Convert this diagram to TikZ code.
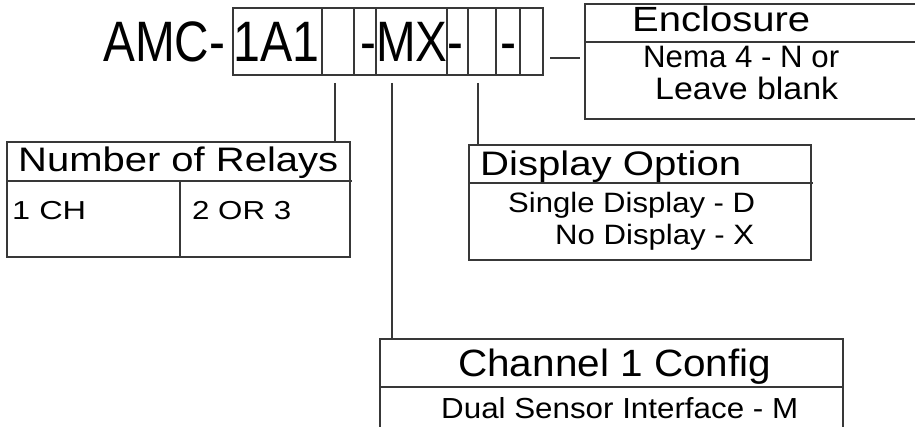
\documentclass[tikz,border=0pt]{standalone}
\usepackage{fontspec}
\setmainfont{Liberation Sans}
\usepackage{graphicx}

% stretch a text to a given width, keeping its height
\newcommand{\fitw}[2]{\resizebox{#1}{\height}{#2}}

\begin{document}
\begin{tikzpicture}[x=1pt,y=-1pt,
            frame/.style={black!78, line width=1.1pt},
            lead/.style={black!78, line width=1.1pt},
            code/.style={anchor=base west, inner sep=0pt, font=\fontsize{57}{57}\selectfont},
            head/.style={anchor=base west, inner sep=0pt, font=\fontsize{34}{34}\selectfont},
            entry/.style={anchor=base west, inner sep=0pt, font=\fontsize{28}{28}\selectfont}]

        \useasboundingbox (0,0) rectangle (915,427);

        % part number and its slots
        \node[code] (prefix) at (103,62) {\fitw{122pt}{AMC-}};
        \node[code] (relays code) at (233,62) {\fitw{86pt}{1A1}};
        \node[code] (config code) at (360,62) {\fitw{103pt}{-MX-}};
        \node[code] (last dash) at (500,62) {\fitw{16pt}{-}};
        \draw[frame] (233,8) rectangle (543,75);
        \foreach \x in {322,354,376,447,468,496,520}
            \draw[frame] (\x,8) -- (\x,75);
        \coordinate (slot relays) at (335,83);
        \coordinate (slot config) at (392,83);
        \coordinate (slot display) at (478,83);
        \coordinate (slot enclosure) at (550,58);

        % enclosure
        \draw[frame] (915,4) -- (585,4) -- (585,119) -- (915,119);
        \draw[frame] (585,42) -- (915,42);
        \coordinate (enclosure side) at (580,58);
        \node[head, font=\fontsize{35}{35}\selectfont] (enclosure) at (632,32) {\fitw{178pt}{Enclosure}};
        \node[entry, font=\fontsize{31}{31}\selectfont] (nema) at (643,68) {\fitw{196pt}{Nema 4 - N or}};
        \node[entry, font=\fontsize{31}{31}\selectfont] (blank) at (655,100) {\fitw{183pt}{Leave blank}};

        % number of relays
        \draw[frame] (7,142) rectangle (350,257);
        \draw[frame] (7,181) -- (352,181);
        \draw[frame] (180,181) -- (180,257);
        \coordinate (relays top) at (335,142);
        \node[head] (relays) at (18,172) {\fitw{320pt}{Number of Relays}};
        \node[entry, font=\fontsize{26}{26}\selectfont] (one ch) at (12,220) {\fitw{74pt}{1 CH}};
        \node[entry, font=\fontsize{26}{26}\selectfont] (two ch) at (192,220) {\fitw{99pt}{2 OR 3}};

        % display option
        \draw[frame] (469,145) rectangle (811,260);
        \draw[frame] (469,183) -- (813,183);
        \coordinate (display top) at (478,145);
        \node[head] (display) at (480,176) {\fitw{261pt}{Display Option}};
        \node[entry] (single) at (508,213) {\fitw{247pt}{Single Display - D}};
        \node[entry] (none) at (555,245) {\fitw{199pt}{No Display - X}};

        % channel 1 config
        \draw[frame] (380,427) -- (380,339) -- (843,339) -- (843,427);
        \draw[frame] (380,387) -- (843,387);
        \coordinate (config top) at (392,339);
        \node[head, font=\fontsize{38}{38}\selectfont] (config) at (458,376) {\fitw{313pt}{Channel 1 Config}};
        \node[entry, font=\fontsize{29}{29}\selectfont] (dual) at (441,418) {\fitw{357pt}{Dual Sensor Interface - M}};

        % leads
        \draw[lead] (slot relays) -- (relays top);
        \draw[lead] (slot config) -- (config top);
        \draw[lead] (slot display) -- (display top);
        \draw[lead] (slot enclosure) -- (enclosure side);
    \end{tikzpicture}
\end{document}
